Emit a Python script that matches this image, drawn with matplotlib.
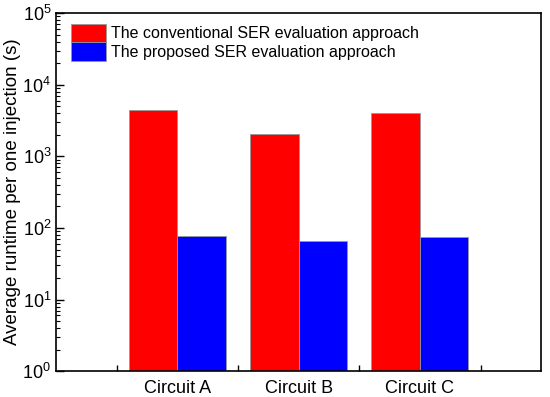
import matplotlib
matplotlib.use('Agg')
import matplotlib.pyplot as plt
from matplotlib.ticker import LogLocator, FixedLocator, NullFormatter
import numpy as np

plt.rcParams['font.family'] = ['Liberation Sans', 'DejaVu Sans']
plt.rcParams['mathtext.default'] = 'regular'

circuits = ['Circuit A', 'Circuit B', 'Circuit C']
conventional = [4420, 2040, 4010]
proposed = [77, 65, 74]

x = np.arange(1, len(circuits) + 1)
w = 0.4

fig, ax = plt.subplots(figsize=(5.5, 3.97), dpi=100)
fig.subplots_adjust(left=0.102, right=0.984, top=0.967, bottom=0.065)

ax.bar(x - w / 2, conventional, width=w, color='#ff0000', edgecolor='#999999',
       linewidth=0.6, label='The conventional SER evaluation approach')
ax.bar(x + w / 2, proposed, width=w, color='#0000ff', edgecolor='#999999',
       linewidth=0.6, label='The proposed SER evaluation approach')

ax.set_yscale('log')
ax.set_ylim(1, 1e5)
ax.set_xlim(0, 4)
ax.set_xticks(x)
ax.set_xticklabels(circuits, fontsize=13)
ax.xaxis.set_minor_locator(FixedLocator([0.5, 1.5, 2.5, 3.5]))
ax.tick_params(axis='x', which='major', length=0, pad=6)
ax.tick_params(axis='x', which='minor', direction='in', length=4, width=1)

ax.yaxis.set_major_locator(LogLocator(base=10, numticks=10))
ax.yaxis.set_minor_locator(LogLocator(base=10, subs=np.arange(2, 10), numticks=10))
ax.yaxis.set_minor_formatter(NullFormatter())
ax.tick_params(axis='y', which='major', direction='in', length=6, width=1, labelsize=13)
ax.tick_params(axis='y', which='minor', direction='in', length=3, width=0.8)

for s in ax.spines.values():
    s.set_linewidth(1.2)

ax.set_ylabel('Average runtime per one injection (s)', fontsize=13.5, labelpad=1)

ax.legend(loc='upper left', frameon=False, fontsize=11.5, handlelength=2.2,
          handleheight=1.4, handletextpad=0.35, labelspacing=0.0,
          borderaxespad=0.3, borderpad=0.3,
          bbox_to_anchor=(0.01, 0.997))

fig.savefig('out.png', dpi=100)
